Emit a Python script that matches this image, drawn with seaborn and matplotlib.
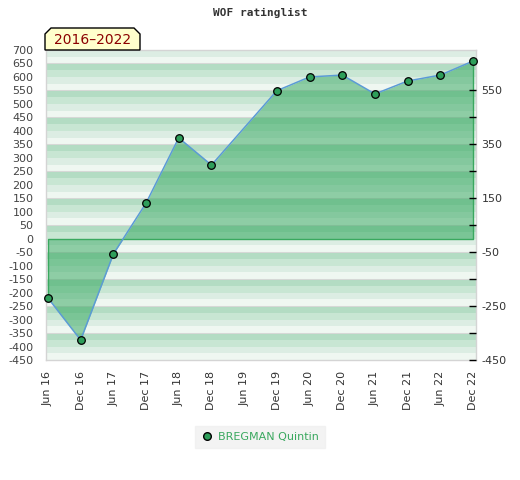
import matplotlib
matplotlib.use("Agg")
import numpy as np
import pandas as pd
import matplotlib.pyplot as plt
import matplotlib.patches as mpatches
from matplotlib.lines import Line2D
import seaborn as sns

# data
periods = ["Jun 16", "Dec 16", "Jun 17", "Dec 17", "Jun 18", "Dec 18", "Jun 19",
           "Dec 19", "Jun 20", "Dec 20", "Jun 21", "Dec 21", "Jun 22", "Dec 22"]
rating = [-220, -376, -57, 132, 374, 273, np.nan,
          549, 600, 607, 537, 585, 607, 659]
player = "BREGMAN Quintin"
year_span = "2016\u20132022"

left_ticks = list(range(-450, 701, 50))
right_major = [550, 350, 150, -50, -250, -450]
right_minor = [450, 250, 50, -150, -350]

df = pd.DataFrame({"pos": np.arange(len(periods)), "period": periods, "rating": rating})
pts = df.dropna()

sns.set_style("white")
fig = plt.figure(figsize=(5.2, 4.8), dpi=100)
ax = fig.add_axes([46 / 520, 1 - 360 / 480, 430 / 520, 310 / 480])

ymin, ymax = -450, 700
ax.set_ylim(ymin, ymax)
ax.set_xlim(-0.06, 13.09)

# striped background, 100-unit blocks
shades = ["#b3dcc3", "#c8e6d3", "#dcede3", "#eff7f1"]
for top in range(750, ymin, -100):
    for i, c in enumerate(shades):
        lo, hi = top - 25 * (i + 1), top - 25 * i
        ax.axhspan(max(lo, ymin), min(hi, ymax), color=c, lw=0, zorder=0)
    if ymin < top - 100 < ymax:
        ax.axhline(top - 100, color="#d6d8d6", lw=0.75, zorder=0.5)

# filled area between the rating and zero
xs = pts["pos"].to_numpy()
ys = pts["rating"].to_numpy()
ax.fill_between(xs, ys, 0, color="#2ea55a", alpha=0.5, lw=0, zorder=1)
ax.plot([xs[0], xs[0], xs[-1], xs[-1]], [ys[0], 0, 0, ys[-1]],
        color="#3aa85f", lw=1, zorder=2)

sns.lineplot(data=pts, x="pos", y="rating", color="#5b9bd5", lw=1.1, ax=ax, zorder=3)
sns.scatterplot(data=pts, x="pos", y="rating", color="#2e9e5a", edgecolor="black",
                s=30, linewidth=0.9, ax=ax, zorder=4, clip_on=False)

ax.set_xticks(range(len(periods)))
ax.set_xticklabels(periods, rotation=90, fontsize=8, color="#333333")
ax.set_yticks(left_ticks)
ax.set_yticklabels([str(t) for t in left_ticks], fontsize=8, color="#444444")
ax.tick_params(axis="both", length=0, pad=9)
ax.tick_params(axis="x", pad=8)
ax.set_xlabel("")
ax.set_ylabel("")
for s in ax.spines.values():
    s.set_color("#d4d4d4")
    s.set_linewidth(1)

ax2 = ax.twinx()
ax2.set_ylim(ymin, ymax)
ax2.set_yticks(right_major)
ax2.set_yticklabels([str(t) for t in right_major], fontsize=8, color="#333333")
ax2.set_yticks(right_minor, minor=True)
ax2.tick_params(axis="y", which="both", direction="in", length=5, width=1,
                color="black", pad=4)
for s in ax2.spines.values():
    s.set_visible(False)

fig.text(0.5, 1 - 13 / 480, "WOF ratinglist", ha="center", va="center",
         family="DejaVu Sans Mono", fontweight="bold", fontsize=8, color="#333333")

# year span label with cut corners
x0, x1 = 45 / 520, 140 / 520
y0, y1 = 1 - 50 / 480, 1 - 28 / 480
cx, cy = 6 / 520, 6 / 480
tag = mpatches.Polygon([(x0, y0), (x0, y1 - cy), (x0 + cx, y1), (x1 - cx, y1),
                        (x1, y1 - cy), (x1, y0)], closed=True,
                       facecolor="#ffffcc", edgecolor="black", lw=1,
                       transform=fig.transFigure)
fig.patches.append(tag)
fig.text((x0 + x1) / 2, (y0 + y1) / 2 - 0.002, year_span, ha="center", va="center",
         fontsize=10, color="#8b0000")

handle = Line2D([], [], marker="o", ls="", markerfacecolor="#2e9e5a",
                markeredgecolor="black", markersize=5.5)
leg = fig.legend([handle], [player], loc="center", bbox_to_anchor=(0.5, 1 - 437 / 480),
                 frameon=True, fontsize=8, handletextpad=0.4, borderpad=0.5,
                 handlelength=1.2)
leg.get_frame().set_facecolor("#f0f0f0")
leg.get_frame().set_edgecolor("#f0f0f0")
leg.get_frame().set_boxstyle("square", pad=0)
for t in leg.get_texts():
    t.set_color("#3aa85f")

fig.savefig("out.png", dpi=100)
